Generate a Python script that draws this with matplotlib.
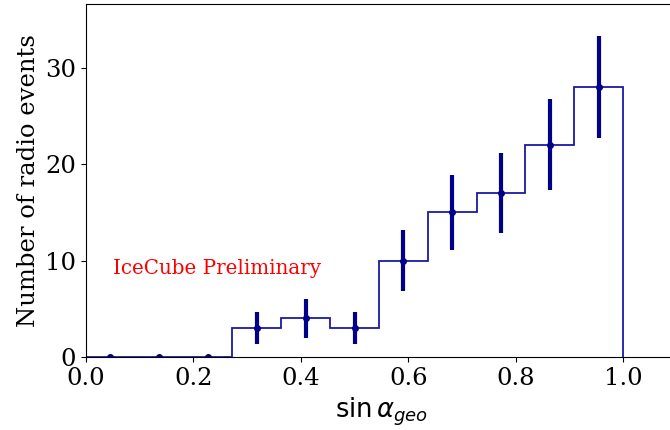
import numpy as np
import matplotlib.pyplot as plt

# bin edges (11 equal bins in sin alpha_geo) and counts
bin_edges = np.linspace(0, 1, 12)
counts = [0, 0, 0, 3, 4, 3, 10, 15, 17, 22, 28]
errors = [0, 0, 0, 1.7, 2.0, 1.7, 3.2, 3.9, 4.1, 4.7, 5.3]

plt.rcParams['font.family'] = 'DejaVu Serif'
plt.rcParams['mathtext.fontset'] = 'dejavusans'

fig = plt.figure(figsize=(6.7, 4.3), dpi=100)
ax = fig.add_axes([86/670, 73/430, 1.1*537/670, 353/430])

centers = 0.5*(bin_edges[1:] + bin_edges[:-1])
ax.stairs(counts, bin_edges, color='#1a1aa6', linewidth=1.3)
ax.errorbar(centers, counts, yerr=errors, fmt='o', color='darkblue',
            markersize=4, elinewidth=3, capsize=0)

ax.text(0.05, 8.6, 'IceCube Preliminary', color='red', fontsize=14.3)

ax.set_xlim(0, 1.1)
ax.set_ylim(0, 36.6)
ax.set_xticks([0.0, 0.2, 0.4, 0.6, 0.8, 1.0])
ax.set_yticks([0, 10, 20, 30])
ax.tick_params(labelsize=17.5)
ax.set_xlabel(r'$\sin\alpha_{geo}$', fontsize=18.5)
ax.set_ylabel('Number of radio events', fontsize=17.5)

fig.savefig('out.png')
